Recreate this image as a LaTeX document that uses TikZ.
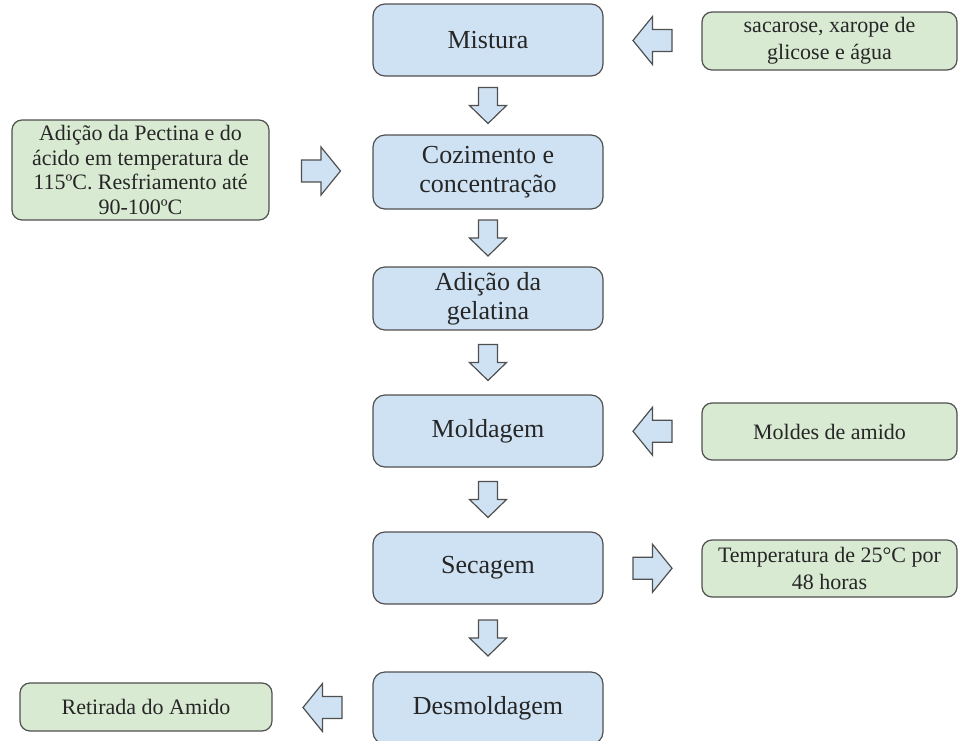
\documentclass[tikz,border=0pt]{standalone}
\usepackage{fontspec}
\setmainfont{Liberation Serif}
\usetikzlibrary{calc}
\definecolor{azul}{HTML}{CFE2F3}
\definecolor{verde}{HTML}{D9EAD3}
\definecolor{borda}{HTML}{505050}
\definecolor{texto}{HTML}{262626}
\tikzset{
  etapa/.style={draw=borda,fill=azul,line width=0.9pt,rounded corners=9pt,minimum width=172.5pt,minimum height=54pt,inner sep=2pt,align=center,text=texto,font=\fontsize{19.5}{21.5}\selectfont},
  insumo/.style={draw=borda,fill=verde,line width=0.9pt,rounded corners=7.5pt,minimum width=191.25pt,minimum height=42.75pt,inner sep=2pt,align=center,text=texto,font=\fontsize{16.5}{20.5}\selectfont},
  seta/.style={draw=borda,fill=azul,line width=0.9pt,line join=miter},
  passo/.pic={\path[seta] (-9.5,-18) -- (9.5,-18) -- (9.5,0) -- (18.5,0) -- (0,18) -- (-18.5,0) -- (-9.5,0) -- cycle;},
  lado/.pic={\path[seta] (-19.5,-11) -- (0,-11) -- (0,-24) -- (19.5,0) -- (0,24) -- (0,11) -- (-19.5,11) -- cycle;},
}
\begin{document}
\begin{tikzpicture}[x=0.75pt,y=-0.75pt]
\useasboundingbox (0,0) rectangle (958,740);
% etapas
\node[etapa] (mistura) at (488,40) {Mistura};
\node[etapa,minimum height=55.5pt] (cozimento) at (488,172) {Cozimento e\\concentração};
\node[etapa,minimum height=47.25pt] (gelatina) at (488,298.5) {Adição da\\gelatina};
\node[etapa] (moldagem) at (488,431) {Moldagem};
\node[etapa] (secagem) at (488,568) {Secagem};
\node[etapa] (desmoldagem) at (488,708) {Desmoldagem};
% insumos
\node[insumo,minimum height=43.5pt] (acucares) at (829.5,41) {sacarose, xarope de\\glicose e água};
\node[insumo,minimum width=192.75pt,minimum height=75pt,font=\fontsize{16.5}{18.5}\selectfont] (pectina) at (140.5,170) {Adição da Pectina e do\\ácido em temperatura de\\115ºC. Resfriamento até\\90-100ºC};
\node[insumo] (moldes) at (829.5,431.5) {Moldes de amido};
\node[insumo] (temperatura) at (829.5,568.5) {Temperatura de 25°C por\\48 horas};
\node[insumo,minimum width=189pt,minimum height=36pt] (retirada) at (146,707) {Retirada do Amido};
% setas
\foreach \a/\b in {mistura/cozimento,cozimento/gelatina,gelatina/moldagem,moldagem/secagem,secagem/desmoldagem}
  \pic at ($(\a.south)!0.5!(\b.north)$) {passo};
\pic[rotate=180] at ($(acucares.west)!0.5!(mistura.east)$) {lado};
\pic at ($(pectina.east)!0.5!(cozimento.west)$) {lado};
\pic[rotate=180] at ($(moldes.west)!0.5!(moldagem.east)$) {lado};
\pic at ($(secagem.east)!0.5!(temperatura.west)$) {lado};
\pic[rotate=180] at ($(desmoldagem.west)!0.5!(retirada.east)$) {lado};
\end{tikzpicture}
\end{document}
